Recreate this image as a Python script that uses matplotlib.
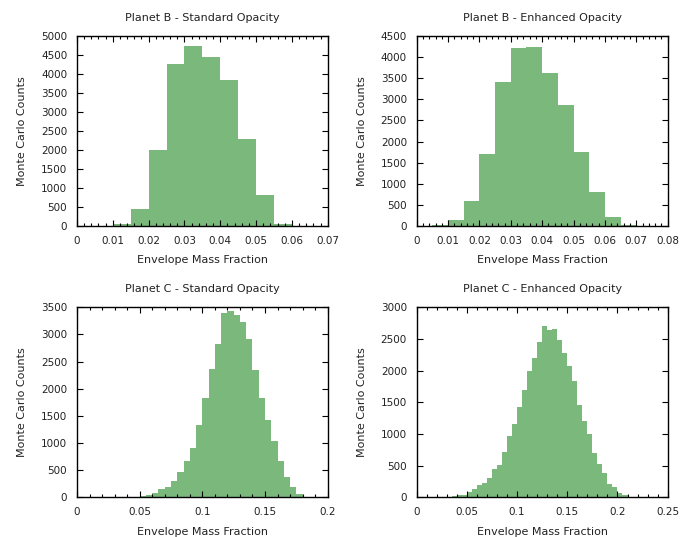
import numpy as np
import matplotlib
matplotlib.use("Agg")
import matplotlib.pyplot as plt
from matplotlib.ticker import MultipleLocator, AutoMinorLocator, FormatStrFormatter

BIN_W = 0.005

# planet B, standard opacity
b_std_start = 0.010
b_std_counts = [50, 450, 2000, 4270, 4740, 4450, 3840, 2290, 815, 55]

# planet B, enhanced opacity
b_enh_start = 0.005
b_enh_counts = [25, 140, 590, 1705, 3410, 4215, 4240, 3625, 2865, 1755, 805, 215, 25]

# planet C, standard opacity
c_std_start = 0.030
c_std_counts = [2, 4, 6, 8, 25, 43, 80, 153, 190, 301, 467, 669, 909, 1332, 1830,
                2364, 2831, 3396, 3432, 3359, 3230, 2917, 2346, 1830, 1425, 1038,
                669, 375, 190, 68, 12]

# planet C, enhanced opacity
c_enh_start = 0.030
c_enh_counts = [5, 21, 35, 40, 84, 132, 195, 227, 306, 448, 511, 717, 970, 1160,
                1429, 1697, 1998, 2203, 2457, 2710, 2646, 2662, 2488, 2283, 2077,
                1840, 1460, 1207, 1002, 701, 527, 385, 211, 163, 69, 37, 11, 3]

titles = ["Planet B - Standard Opacity", "Planet B - Enhanced Opacity",
          "Planet C - Standard Opacity", "Planet C - Enhanced Opacity"]
x_max = [0.07, 0.08, 0.2, 0.25]
x_step = [0.01, 0.01, 0.05, 0.05]
y_max = [5000, 4500, 3500, 3000]

panels = [(b_std_start, b_std_counts), (b_enh_start, b_enh_counts),
          (c_std_start, c_std_counts), (c_enh_start, c_enh_counts)]

# axes boxes in figure fractions: left, bottom, width, height
boxes = [[0.1106, 0.5791, 0.3602, 0.3538],
         [0.5987, 0.5791, 0.3606, 0.3538],
         [0.1106, 0.0739, 0.3602, 0.3538],
         [0.5987, 0.0739, 0.3606, 0.3538]]

BAR = "#7bb87b"
TXT = "#222222"

fig = plt.figure(figsize=(6.96, 5.37), dpi=100)

for i in range(4):
    ax = fig.add_axes(boxes[i])
    start, counts = panels[i]
    edges = start + BIN_W * np.arange(len(counts) + 1)
    ax.hist(edges[:-1] + BIN_W / 2, bins=edges, weights=counts, color=BAR,
            edgecolor="none")
    ax.set_xlim(0, x_max[i])
    ax.set_ylim(0, y_max[i])
    ax.xaxis.set_major_locator(MultipleLocator(x_step[i]))
    ax.xaxis.set_minor_locator(AutoMinorLocator(5))
    ax.yaxis.set_major_locator(MultipleLocator(500))
    ax.xaxis.set_major_formatter(FormatStrFormatter("%g"))
    ax.tick_params(which="both", direction="in", top=True, right=True,
                   labelsize=7.5, labelcolor=TXT, width=0.8)
    ax.tick_params(which="major", length=4.5, pad=7)
    ax.tick_params(which="minor", length=2.2)
    for sp in ax.spines.values():
        sp.set_linewidth(1.0)
    ax.set_title(titles[i], fontsize=8, color=TXT, pad=11)
    ax.set_xlabel("Envelope Mass Fraction", fontsize=8, color=TXT, labelpad=7)
    ax.set_ylabel("Monte Carlo Counts", fontsize=8, color=TXT, labelpad=10)

fig.savefig("out.png", dpi=100)
